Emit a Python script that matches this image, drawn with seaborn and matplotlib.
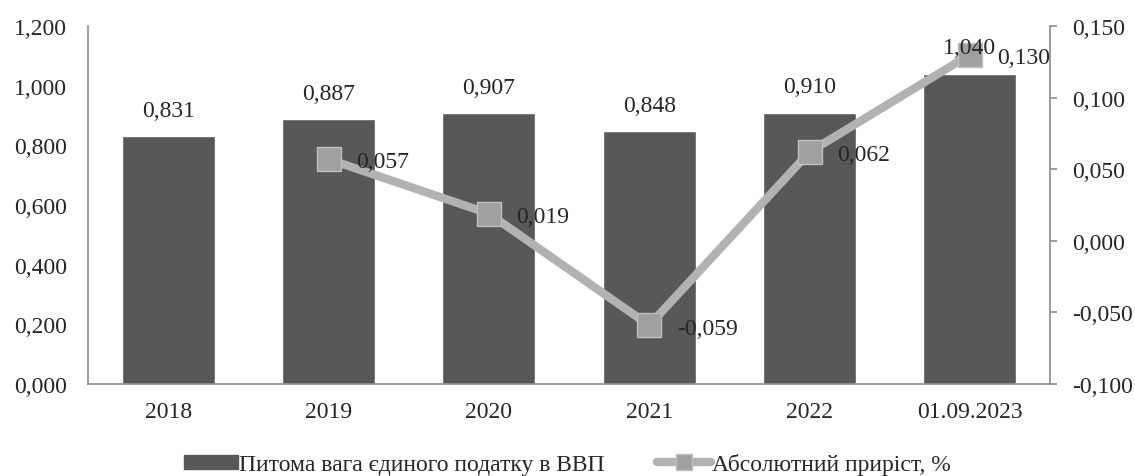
import numpy as np
import matplotlib
matplotlib.use("Agg")
import matplotlib.pyplot as plt
import seaborn as sns
from matplotlib.ticker import FuncFormatter, FixedLocator
from matplotlib.patches import Patch
from matplotlib.lines import Line2D

categories = ["2018", "2019", "2020", "2021", "2022", "01.09.2023"]
share_values = [0.831, 0.887, 0.907, 0.848, 0.910, 1.040]
growth_values = [np.nan, 0.057, 0.019, -0.059, 0.062, 0.130]
bar_label = "Питома вага єдиного податку в ВВП"
line_label = "Абсолютний приріст, %"

sns.set_style("white")
plt.rcParams["font.family"] = ["Liberation Serif", "DejaVu Serif"]
FS = 17
plt.rcParams["font.size"] = FS

BAR_C = "#585858"
LINE_C = "#b2b2b2"
MARK_C = "#a0a0a0"
SPINE_C = "#8c8c8c"

fig = plt.figure(figsize=(11.35, 4.77), dpi=100)
ax = fig.add_axes([88 / 1135, 1 - 385 / 477, (1050 - 88) / 1135, (385 - 27) / 477])

x = np.arange(len(categories))
sns.barplot(x=x, y=share_values, ax=ax, color=BAR_C, width=0.58, saturation=1, native_scale=True)
ax.set_xlim(-0.5, len(categories) - 0.5)
ax.set_ylim(0, 1.2)
ax.yaxis.set_major_locator(FixedLocator(np.arange(0, 1.21, 0.2)))
fmt3 = FuncFormatter(lambda v, p: f"{v:.3f}".replace(".", ","))
ax.yaxis.set_major_formatter(fmt3)
ax.set_xticks(x)
ax.set_xticklabels(categories)
ax.tick_params(axis="both", length=0, labelsize=FS)
ax.tick_params(axis="x", pad=12)
ax.tick_params(axis="y", pad=15)
for s in ["top", "right"]:
    ax.spines[s].set_visible(False)
for s in ["left", "bottom"]:
    ax.spines[s].set_color(SPINE_C)
    ax.spines[s].set_linewidth(1.2)

ax2 = ax.twinx()
xs = x[1:]
ys = growth_values[1:]
sns.lineplot(x=xs, y=ys, ax=ax2, color=LINE_C, linewidth=6, marker="s", markersize=17,
             markerfacecolor=MARK_C, markeredgecolor="#c0c0c0", markeredgewidth=1, zorder=5)
ax2.set_ylim(-0.1, 0.15)
ax2.yaxis.set_major_locator(FixedLocator(np.arange(-0.1, 0.151, 0.05)))
ax2.yaxis.set_major_formatter(fmt3)
ax2.tick_params(axis="y", direction="out", length=5, width=1.2, color=SPINE_C, labelsize=FS, pad=11)
for s in ["top", "left", "bottom"]:
    ax2.spines[s].set_visible(False)
ax2.spines["right"].set_color(SPINE_C)
ax2.spines["right"].set_linewidth(1.2)
for xi, yi in zip(xs, ys):
    ax2.annotate(f"{yi:.3f}".replace(".", ","), (xi, yi), xytext=(20, -2), textcoords="offset points",
                 ha="left", va="center", fontsize=FS, zorder=6)

# bar value labels drawn on top of the line layer
for rect, v in zip(ax.patches, share_values):
    ax2.annotate(f"{v:.3f}".replace(".", ","), (rect.get_x() + rect.get_width() / 2, rect.get_height()),
                 xycoords=ax.transData, xytext=(0, 11), textcoords="offset points",
                 ha="center", va="bottom", fontsize=FS, zorder=7)

handles = [Patch(facecolor=BAR_C, edgecolor=BAR_C),
           Line2D([0], [0], color=LINE_C, linewidth=6, marker="s", markersize=12,
                  markerfacecolor=MARK_C, markeredgecolor="#c0c0c0")]
fig.legend(handles, [bar_label, line_label], loc="center", bbox_to_anchor=(0.5, 1 - 465 / 477),
           ncol=2, frameon=False, fontsize=FS, handlelength=2.3, handleheight=0.55,
           columnspacing=2.2, handletextpad=0.05)

fig.savefig("out.png", dpi=100)
